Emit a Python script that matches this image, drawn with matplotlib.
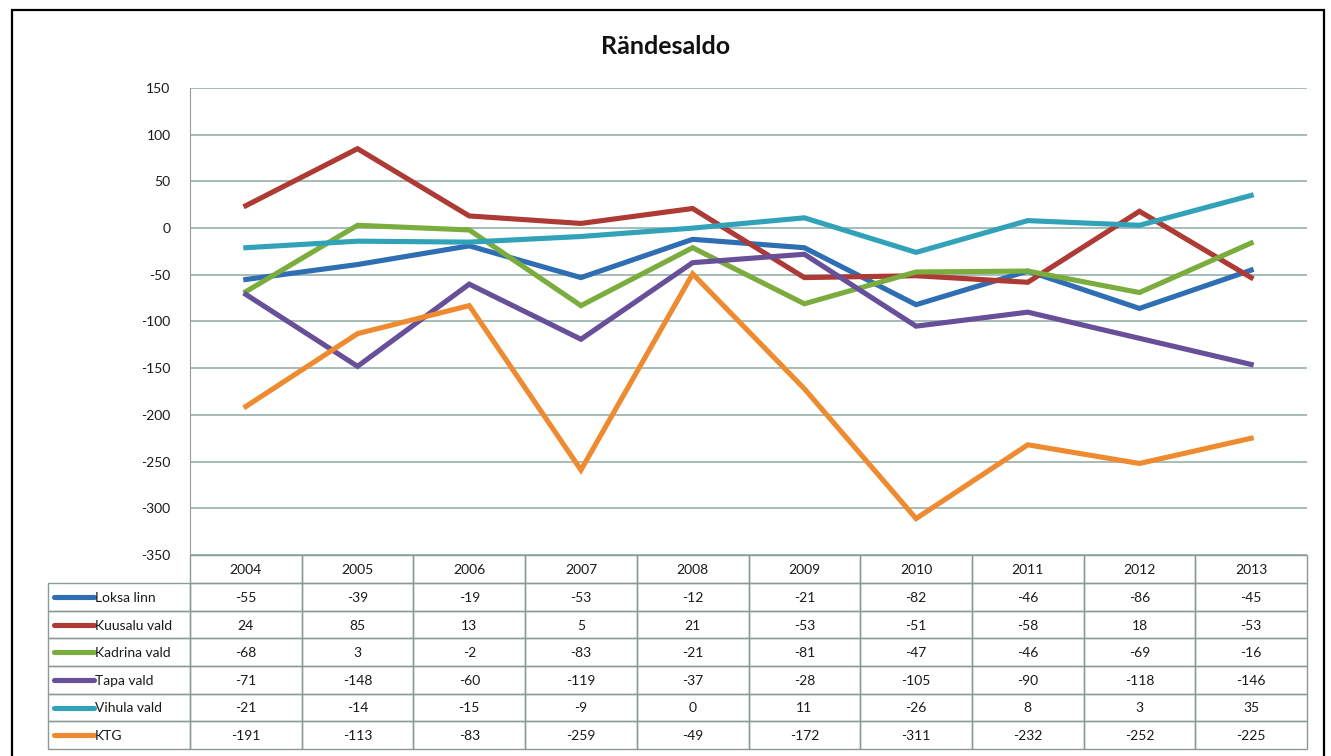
import matplotlib.pyplot as plt
import matplotlib.patches as mpatches

years = ["2004", "2005", "2006", "2007", "2008", "2009", "2010", "2011", "2012", "2013"]
names = ["Loksa linn", "Kuusalu vald", "Kadrina vald", "Tapa vald", "Vihula vald", "KTG"]
loksa = [-55, -39, -19, -53, -12, -21, -82, -46, -86, -45]
kuusalu = [24, 85, 13, 5, 21, -53, -51, -58, 18, -53]
kadrina = [-68, 3, -2, -83, -21, -81, -47, -46, -69, -16]
tapa = [-71, -148, -60, -119, -37, -28, -105, -90, -118, -146]
vihula = [-21, -14, -15, -9, 0, 11, -26, 8, 3, 35]
ktg = [-191, -113, -83, -259, -49, -172, -311, -232, -252, -225]
series = [loksa, kuusalu, kadrina, tapa, vihula, ktg]
colors = ["#2f6eb3", "#ad3a34", "#7bad3e", "#674f99", "#31a2b8", "#ee8b30"]
yticks = list(range(-350, 151, 50))

plt.rcParams['font.family'] = ['Lato', 'DejaVu Sans']
fs = 10
txt_c = "#1a1a1a"

fig = plt.figure(figsize=(13.31, 7.56), dpi=100)
W, H = 1331, 756
# plot area in pixels
x0, x1, ytop, ybot = 190, 1307, 88, 555
ax = fig.add_axes([x0 / W, 1 - ybot / H, (x1 - x0) / W, (ybot - ytop) / H])

xs = list(range(len(years)))
for vals, c in zip(series, colors):
    ax.plot(xs, vals, color=c, lw=3.7, solid_joinstyle='miter', zorder=3)

ax.set_xlim(-0.5, len(years) - 0.5)
ax.set_ylim(-350, 150)
ax.set_yticks(yticks)
ax.set_yticklabels([str(v) for v in yticks], fontsize=fs, color=txt_c)
ax.set_xticks([])
ax.tick_params(axis='y', length=0, pad=14)
ax.grid(axis='y', color="#8fa9a3", lw=1.1)
ax.set_axisbelow(True)
for s in ['top', 'right', 'bottom']:
    ax.spines[s].set_visible(False)
ax.spines['left'].set_color("#9a9a9a")

fig.text(0.5, 1 - 47 / H, "Rändesaldo", ha='center', va='center',
         fontsize=18, fontweight='bold', color="#111111")

# data table below the plot
tab_left = 48
first_w = x0 - tab_left
col_w = (x1 - x0) / len(years)
hdr_h = 28
row_h = (749 - 583) / len(names)
grid_c = "#8a9a96"

def px(x, y):
    return x / W, 1 - y / H

# header
for i, yr in enumerate(years):
    cx = x0 + i * col_w
    fig.patches.append(mpatches.Rectangle(px(cx, ybot + hdr_h), col_w / W, hdr_h / H,
                                          transform=fig.transFigure, fill=False,
                                          edgecolor=grid_c, lw=1))
    fig.text(*px(cx + col_w / 2, ybot + hdr_h / 2 + 1), yr, ha='center', va='center',
             fontsize=fs, color=txt_c)

for r, (name, vals, c) in enumerate(zip(names, series, colors)):
    top = ybot + hdr_h + r * row_h
    cy = top + row_h / 2
    fig.patches.append(mpatches.Rectangle(px(tab_left, top + row_h), first_w / W, row_h / H,
                                          transform=fig.transFigure, fill=False,
                                          edgecolor=grid_c, lw=1))
    fig.lines.append(plt.Line2D([54 / W, 94 / W], [1 - cy / H, 1 - cy / H],
                                transform=fig.transFigure, color=c, lw=3.7,
                                solid_capstyle='round'))
    fig.text(*px(95, cy + 1), name, ha='left', va='center', fontsize=fs, color=txt_c)
    for i, v in enumerate(vals):
        cx = x0 + i * col_w
        fig.patches.append(mpatches.Rectangle(px(cx, top + row_h), col_w / W, row_h / H,
                                              transform=fig.transFigure, fill=False,
                                              edgecolor=grid_c, lw=1))
        fig.text(*px(cx + col_w / 2, cy + 1), str(v), ha='center', va='center',
                 fontsize=fs, color=txt_c)

# outer frame of the chart
fig.patches.append(mpatches.Rectangle(px(12, 790), (1324 - 12) / W, (790 - 10) / H,
                                      transform=fig.transFigure, fill=False,
                                      edgecolor="black", lw=1.6))

fig.savefig("out.png", dpi=100)
